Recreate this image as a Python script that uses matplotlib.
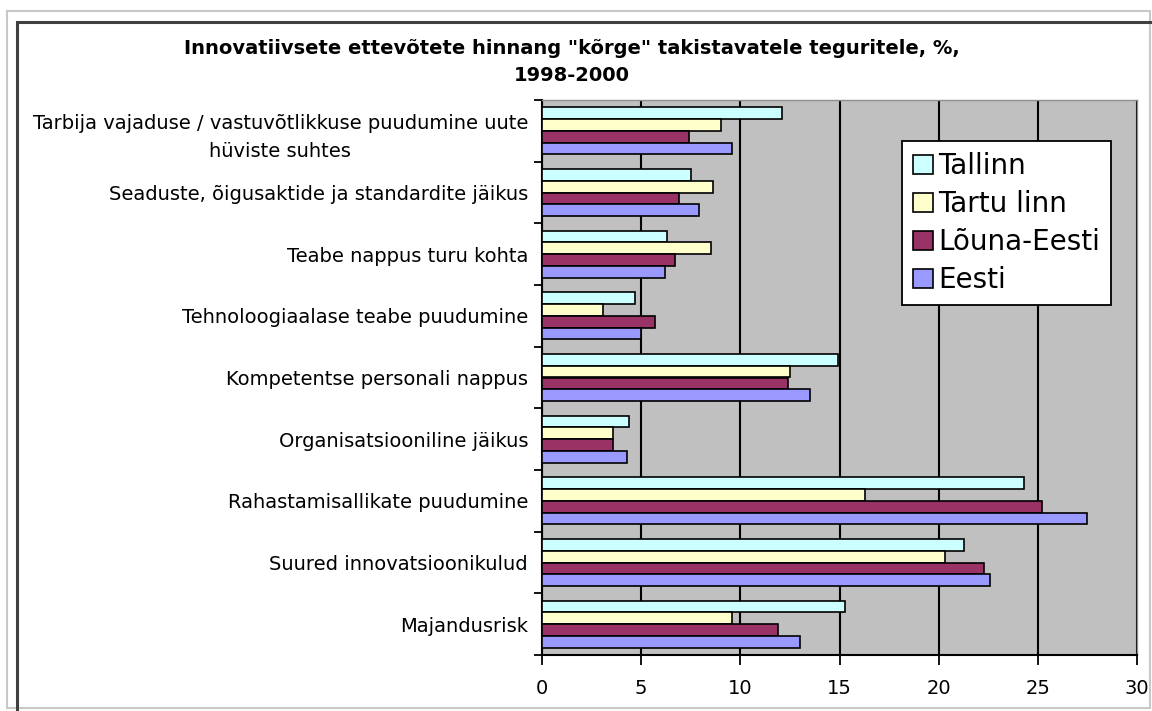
import numpy as np
from matplotlib import pyplot as plt
from matplotlib.patches import Rectangle

# Data, top to bottom.
categories = [
    'Tarbija vajaduse / vastuvõtlikkuse puudumine uute\nhüviste suhtes',
    'Seaduste, õigusaktide ja standardite jäikus',
    'Teabe nappus turu kohta',
    'Tehnoloogiaalase teabe puudumine',
    'Kompetentse personali nappus',
    'Organisatsiooniline jäikus',
    'Rahastamisallikate puudumine',
    'Suured innovatsioonikulud',
    'Majandusrisk',
]
tallinn = [12.1, 7.5, 6.3, 4.7, 14.9, 4.4, 24.3, 21.3, 15.3]
tartu = [9.0, 8.6, 8.5, 3.1, 12.5, 3.6, 16.3, 20.3, 9.6]
louna = [7.4, 6.9, 6.7, 5.7, 12.4, 3.6, 25.2, 22.3, 11.9]
eesti = [9.6, 7.9, 6.2, 5.0, 13.5, 4.3, 27.5, 22.6, 13.0]
series_names = ['Tallinn', 'Tartu linn', 'Lõuna-Eesti', 'Eesti']
x_ticks = [0, 5, 10, 15, 20, 25, 30]

title = ('Innovatiivsete ettevõtete hinnang "kõrge" takistavatele teguritele, %,\n'
         '1998-2000')


def main():
    fig = plt.figure(figsize=(11.52, 7.11), dpi=100)
    W, H = 1152, 711

    # Chart area borders (light outer, dark inner).
    fig.patches.append(Rectangle((7 / W, 3 / H), 1143 / W, 697 / H,
                                 transform=fig.transFigure, fill=False,
                                 edgecolor='#c8c8c8', linewidth=1.5))
    fig.patches.append(Rectangle((17 / W, -0.05), 1.2, 1 - 22 / H + 0.05,
                                 transform=fig.transFigure, fill=False,
                                 edgecolor='#404040', linewidth=2.2))

    ax = fig.add_axes([542 / W, 1 - 655 / H, 595 / W, 555 / H])
    ax.set_facecolor('#c0c0c0')

    y = np.arange(len(categories))
    h = 0.19
    colors = ['#ccffff', '#ffffcc', '#993366', '#9999ff']
    series = [tallinn, tartu, louna, eesti]
    for i, (vals, name, col) in enumerate(zip(series, series_names, colors)):
        ax.barh(y + (i - 1.5) * h, vals, height=h, color=col,
                edgecolor='black', linewidth=1.2, label=name, zorder=3)

    ax.set_xlim(0, 30)
    ax.set_ylim(len(categories) - 0.5, -0.5)
    ax.set_xticks(x_ticks)
    ax.set_xticklabels([str(t) for t in x_ticks])
    ax.set_yticks(y)
    ax.set_yticklabels(categories, multialignment='center', linespacing=1.6)
    ax.set_yticks(np.arange(len(categories) + 1) - 0.5, minor=True)

    ax.grid(axis='x', color='black', linewidth=1.5, zorder=1)
    ax.set_axisbelow(True)

    ax.tick_params(axis='y', which='major', length=0, pad=10, labelsize=14)
    ax.tick_params(axis='y', which='minor', length=6, width=1.3,
                   direction='out')
    ax.tick_params(axis='x', length=7, width=1.3, direction='out', pad=10,
                   labelsize=14)

    for s in ['left', 'bottom']:
        ax.spines[s].set_linewidth(1.5)
        ax.spines[s].set_color('black')
    for s in ['top', 'right']:
        ax.spines[s].set_linewidth(1.0)
        ax.spines[s].set_color('#909090')

    fig.text(572 / W, 1 - 62 / H, title, ha='center', va='center',
             fontsize=14, fontweight='bold', linespacing=1.5)

    leg = fig.legend(loc='upper left', bbox_to_anchor=(902 / W, 1 - 141 / H),
                     bbox_transform=fig.transFigure, fontsize=20,
                     fancybox=False, framealpha=1, edgecolor='black',
                     handlelength=0.7, handleheight=0.7, handletextpad=0.2,
                     labelspacing=0.36, borderpad=0.4, borderaxespad=0)
    leg.get_frame().set_linewidth(1.3)
    for p in leg.get_patches():
        p.set_linewidth(1.2)

    plt.savefig('out.png', dpi=100)


if __name__ == '__main__':
    main()
